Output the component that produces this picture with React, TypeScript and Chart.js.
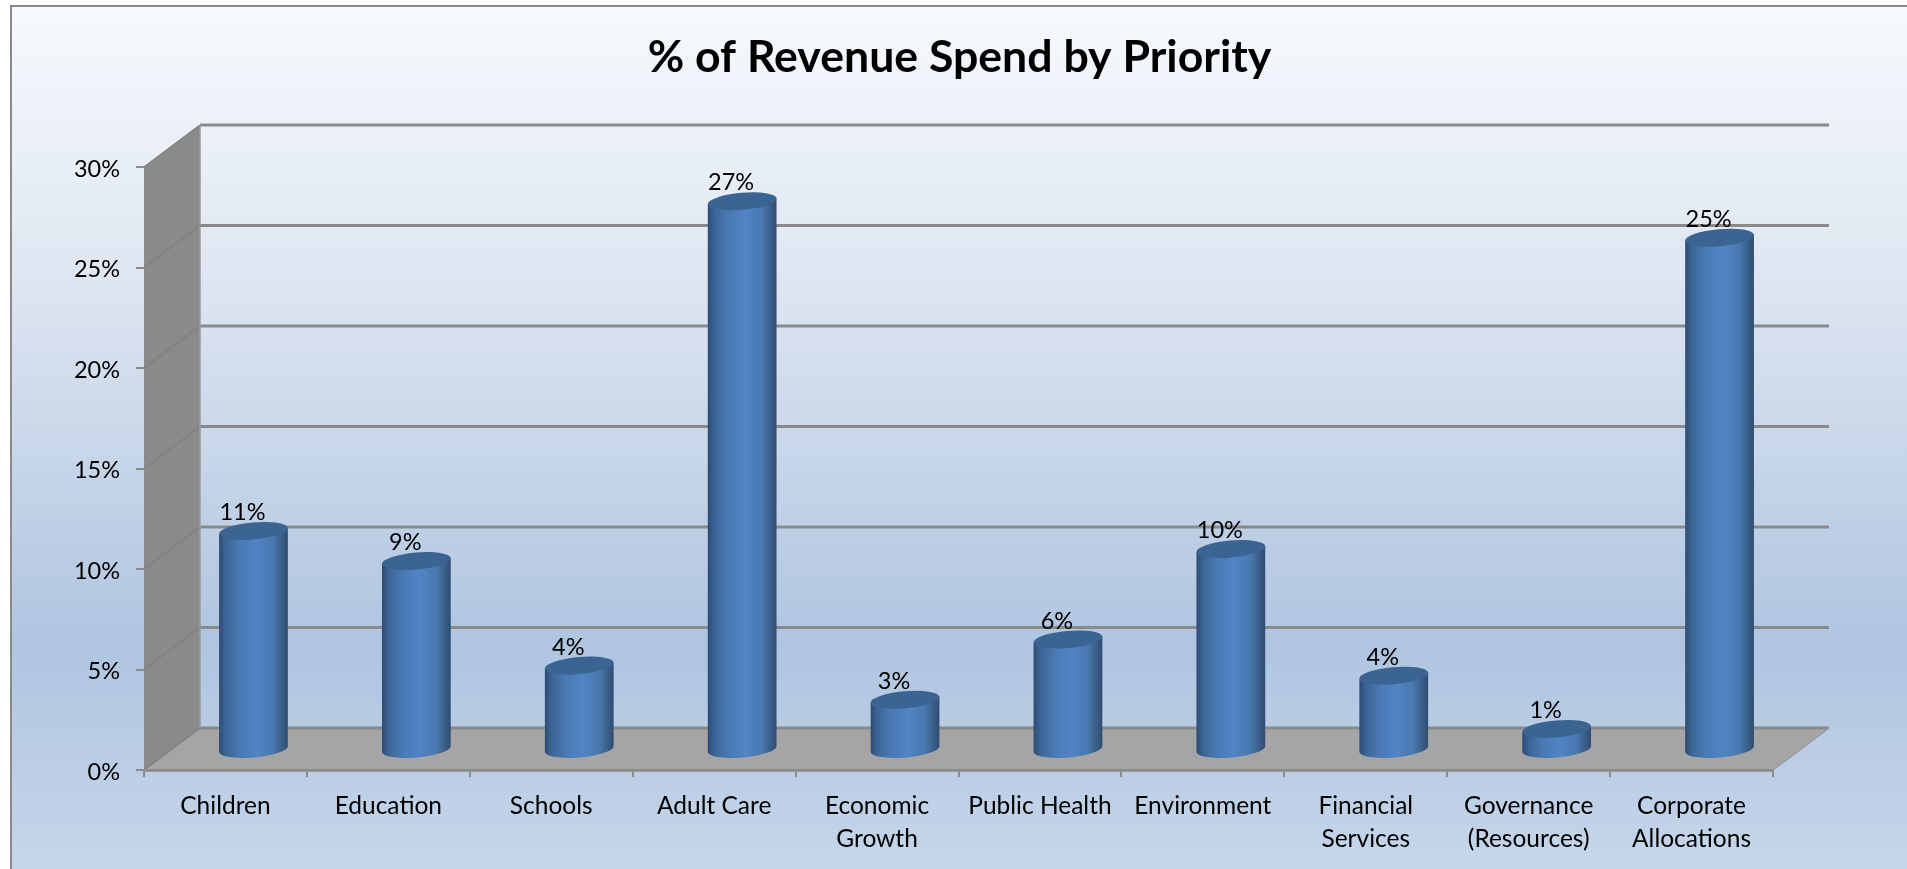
import React, { useEffect, useRef } from "react";
import { Chart, registerables } from "chart.js";

Chart.register(...registerables);

const categories = [
  "Children", "Education", "Schools", "Adult Care", ["Economic", "Growth"],
  "Public Health", "Environment", ["Financial", "Services"], ["Governance", "(Resources)"], ["Corporate", "Allocations"],
];
const revenueShare = [10.9, 9.4, 4.2, 27.3, 2.5, 5.5, 10.0, 3.7, 1.05, 25.49];
const yMin = 0;
const yMax = 30;
const yStep = 5;
const titleText = "% of Revenue Spend by Priority";
const fontFamily = "Lato";

const DEPTH_X = 56;
const DEPTH_Y = -42;
const LINE = "#8a8a8a";

const scene3d = {
  id: "scene3d",
  beforeDraw(chart: any) {
    const { ctx, width, height, chartArea: a, scales } = chart;
    const y = scales.y;
    ctx.save();
    // page background + frame
    const bg = ctx.createLinearGradient(0, 6, 0, height);
    bg.addColorStop(0, "#f6fafe");
    bg.addColorStop(0.3, "#e0e7f2");
    bg.addColorStop(0.74, "#afc5e0");
    bg.addColorStop(1, "#c6d6ea");
    ctx.fillStyle = bg;
    ctx.fillRect(11, 6, width, height);
    ctx.strokeStyle = LINE;
    ctx.lineWidth = 2;
    ctx.beginPath();
    ctx.moveTo(11, height);
    ctx.lineTo(11, 6);
    ctx.lineTo(width, 6);
    ctx.stroke();

    const bx = DEPTH_X, by = DEPTH_Y;
    // floor
    ctx.fillStyle = "#a5a5a5";
    ctx.beginPath();
    ctx.moveTo(a.left, a.bottom);
    ctx.lineTo(a.right, a.bottom);
    ctx.lineTo(a.right + bx, a.bottom + by);
    ctx.lineTo(a.left + bx, a.bottom + by);
    ctx.closePath();
    ctx.fill();
    // left wall
    ctx.fillStyle = "#8a8a8a";
    ctx.beginPath();
    ctx.moveTo(a.left, a.bottom);
    ctx.lineTo(a.left, a.top);
    ctx.lineTo(a.left + bx, a.top + by);
    ctx.lineTo(a.left + bx, a.bottom + by);
    ctx.closePath();
    ctx.fill();

    // grid lines on the left wall and the back wall
    for (let v = yMin; v <= yMax; v += yStep) {
      const py = y.getPixelForValue(v);
      ctx.strokeStyle = "#808080";
      ctx.lineWidth = 1.5;
      ctx.beginPath();
      ctx.moveTo(a.left, py);
      ctx.lineTo(a.left + bx, py + by);
      ctx.stroke();
      ctx.strokeStyle = LINE;
      ctx.lineWidth = 2.8;
      ctx.beginPath();
      ctx.moveTo(a.left + bx, py + by);
      ctx.lineTo(a.right + bx, py + by);
      ctx.stroke();
    }
    // edges
    ctx.strokeStyle = "#9a9a9a";
    ctx.lineWidth = 1.5;
    ctx.beginPath();
    ctx.moveTo(a.left + bx, a.top + by);
    ctx.lineTo(a.left + bx, a.bottom + by);
    ctx.moveTo(a.right, a.bottom);
    ctx.lineTo(a.right + bx, a.bottom + by);
    ctx.stroke();
    ctx.restore();
  },
  beforeDatasetDraw(chart: any, args: any) {
    const { ctx } = chart;
    const meta = chart.getDatasetMeta(args.index);
    const theta = (5 * Math.PI) / 180;
    const ry = 8.5;
    ctx.save();
    meta.data.forEach((bar: any, i: number) => {
      const cx = bar.x + DEPTH_X / 2;
      const yt = bar.y + DEPTH_Y / 2 + 1;
      const yb = bar.base + DEPTH_Y / 2 + 1;
      const rx = bar.width / 2;
      const dx = rx * Math.cos(theta);
      const dy = rx * Math.sin(theta);
      const g = ctx.createLinearGradient(cx - rx, 0, cx + rx, 0);
      g.addColorStop(0, "#2d4b75");
      g.addColorStop(0.1, "#3c6595");
      g.addColorStop(0.3, "#4a7ab3");
      g.addColorStop(0.55, "#5184c6");
      g.addColorStop(0.78, "#4a79af");
      g.addColorStop(0.93, "#385b84");
      g.addColorStop(1, "#2f4b72");
      ctx.fillStyle = g;
      ctx.beginPath();
      ctx.moveTo(cx + dx, yt - dy);
      ctx.lineTo(cx + dx, yb - dy);
      ctx.ellipse(cx, yb, rx, ry, -theta, 0, Math.PI);
      ctx.lineTo(cx - dx, yt + dy);
      ctx.closePath();
      ctx.fill();
      ctx.fillStyle = "#3b6493";
      ctx.beginPath();
      ctx.ellipse(cx, yt, rx, ry, -theta, 0, Math.PI * 2);
      ctx.fill();

      ctx.fillStyle = "#000";
      ctx.font = `23.5px ${fontFamily}`;
      ctx.textAlign = "center";
      ctx.textBaseline = "middle";
      ctx.fillText(`${Math.round(revenueShare[i])}%`, cx - 11, yt - 18.5);
    });
    ctx.restore();
    return false;
  },
};

export default function App() {
  const ref = useRef<HTMLCanvasElement>(null);
  useEffect(() => {
    const chart = new Chart(ref.current as HTMLCanvasElement, {
      type: "bar",
      data: {
        labels: categories as any,
        datasets: [{ label: "% of Revenue", data: revenueShare, backgroundColor: "#4f81bd", barThickness: 69 }],
      },
      plugins: [scene3d],
      options: {
        animation: false,
        responsive: false,
        devicePixelRatio: 1,
        layout: { padding: { left: 12, right: 0, top: 0, bottom: 0 } },
        plugins: {
          legend: { display: false },
          tooltip: { enabled: false },
          title: {
            display: true,
            text: titleText,
            color: "#000",
            font: { family: fontFamily, size: 44.6, weight: "bold", lineHeight: 1.2 },
            padding: { top: 31, bottom: 82.5 },
          },
        },
        scales: {
          x: {
            grid: { display: true, drawOnChartArea: false, drawTicks: true, tickLength: 7, color: LINE, lineWidth: 2 },
            border: { display: true, color: LINE, width: 2.8 },
            ticks: {
              color: "#000",
              padding: 13,
              autoSkip: false,
              maxRotation: 0,
              font: { family: fontFamily, size: 24.5, lineHeight: 33 / 24.5 },
            },
            afterFit(s: any) { s.height = 99; },
          },
          y: {
            min: yMin,
            max: yMax,
            grid: { display: true, drawOnChartArea: false, drawTicks: true, tickLength: 8, color: LINE, lineWidth: 2 },
            border: { display: false },
            ticks: {
              stepSize: yStep,
              color: "#000",
              padding: 16,
              labelOffset: 2,
              font: { family: fontFamily, size: 23.5 },
              callback: (v: any) => `${v}%`,
            },
            afterFit(s: any) { s.width = 132; },
          },
          margin: {
            position: "right",
            display: true,
            grid: { display: false },
            border: { display: false },
            ticks: { display: false },
            afterFit(s: any) { s.width = 134; },
          },
        },
      } as any,
    });
    return () => chart.destroy();
  }, []);
  return (
    <canvas
      ref={ref}
      width={1907}
      height={869}
      style={{ position: "fixed", left: 0, top: 0, width: 1907, height: 869, display: "block" }}
    />
  );
}
